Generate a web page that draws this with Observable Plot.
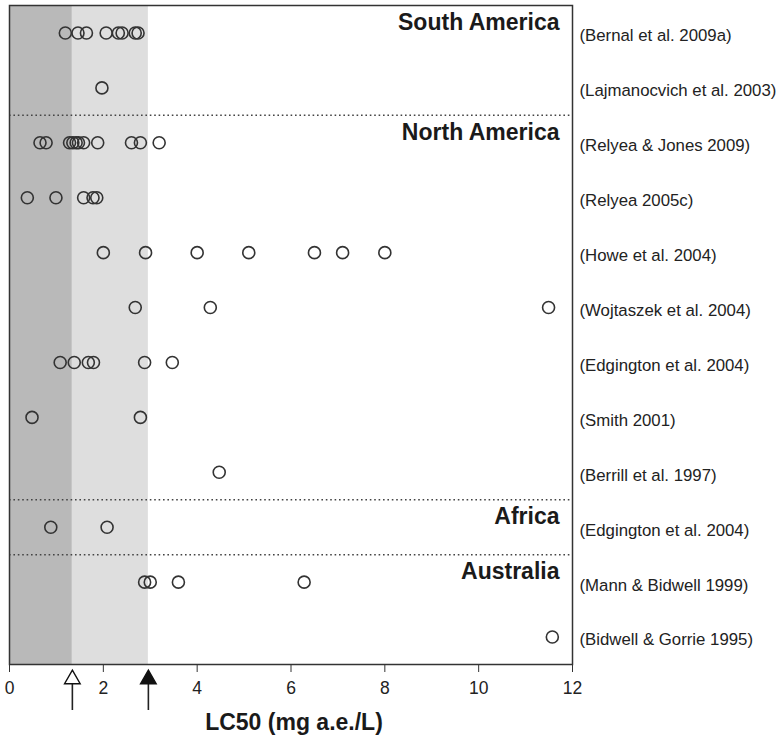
<!DOCTYPE html>
<html>
<head>
<meta charset="utf-8">
<script src="https://cdn.jsdelivr.net/npm/d3@7"></script>
<script src="https://cdn.jsdelivr.net/npm/@observablehq/plot@0.6"></script>
<style>
  body { margin: 0; background: #fff; }
  #chart svg { display: block; }
</style>
</head>
<body>
<div id="chart"></div>
<script>
// Study references (one row each, top to bottom)
const refs = [
  "(Bernal et al. 2009a)",
  "(Lajmanocvich et al. 2003)",
  "(Relyea & Jones 2009)",
  "(Relyea 2005c)",
  "(Howe et al. 2004)",
  "(Wojtaszek et al. 2004)",
  "(Edgington et al. 2004)",
  "(Smith 2001)",
  "(Berrill et al. 1997)",
  "(Edgington et al. 2004)",
  "(Mann & Bidwell 1999)",
  "(Bidwell & Gorrie 1995)"
];

// LC50 values (mg a.e./L) per row
const lc50 = [
  [1.19, 1.46, 1.64, 2.06, 2.32, 2.40, 2.68, 2.74],
  [1.97],
  [0.65, 0.78, 1.28, 1.35, 1.42, 1.47, 1.58, 1.88, 2.60, 2.79, 3.19],
  [0.38, 0.99, 1.58, 1.78, 1.86],
  [2.0, 2.9, 4.0, 5.1, 6.5, 7.1, 8.0],
  [2.68, 4.28, 11.49],
  [1.08, 1.38, 1.68, 1.79, 2.88, 3.47],
  [0.48, 2.79],
  [4.47],
  [0.88, 2.08],
  [2.88, 3.0, 3.60, 6.28],
  [11.57]
];

// Region headings and the row each one sits in
const regions = ["South America", "North America", "Africa", "Australia"];
const regionRows = [0, 2, 9, 10];

// Dotted separators between regions (row boundaries)
const dividers = [1.5, 8.5, 9.5];

// Threshold values marked by arrows / shaded bands
const thresholds = [1.34, 2.96];

const xTicks = [0, 2, 4, 6, 8, 10, 12];
const xLabel = "LC50 (mg a.e./L)";

const nRows = refs.length;
const points = lc50.flatMap((vals, row) => vals.map(v => ({row, v})));

const chart = Plot.plot({
  width: 776,
  height: 739,
  marginLeft: 9,
  marginRight: 204,
  marginTop: 5,
  marginBottom: 75,
  style: {
    fontFamily: '"Liberation Sans", Arial, Helvetica, sans-serif',
    background: "#fff",
    color: "#222",
    overflow: "visible"
  },
  x: {domain: [0, 12]},
  y: {domain: [-0.5, nRows - 0.5], reverse: true},
  marks: [
    Plot.rect([0], {x1: () => 0, x2: () => thresholds[0], fill: "#b9b9b9"}),
    Plot.rect([0], {x1: () => thresholds[0], x2: () => thresholds[1], fill: "#dedede"}),
    Plot.ruleY(dividers, {stroke: "#444", strokeWidth: 1.5, strokeDasharray: "1.6,2.8"}),
    Plot.dot(points, {x: "v", y: "row", r: 6, stroke: "#333", strokeWidth: 1.6, fill: "none"}),
    Plot.text(regions, {
      text: d => d,
      y: (d, i) => regionRows[i],
      frameAnchor: "right",
      textAnchor: "end",
      lineAnchor: "bottom",
      dx: -13,
      dy: -3,
      fontSize: 23,
      fontWeight: "bold",
      fill: "#1a1a1a"
    }),
    Plot.frame({stroke: "#333", strokeWidth: 1.5}),
    Plot.axisX({
      anchor: "bottom",
      ticks: xTicks,
      tickSize: 8,
      tickPadding: 9,
      fontSize: 17.5,
      label: null,
      stroke: "#333"
    }),
    Plot.axisY({
      anchor: "right",
      ticks: d3.range(nRows),
      tickFormat: i => refs[i],
      tickSize: 0,
      tickPadding: 7,
      fontSize: 16.8,
      dy: 3,
      label: null
    }),
    // arrows below the axis marking the thresholds
    Plot.ruleX(thresholds, {x: d => d, insetTop: 678, insetBottom: -46, stroke: "#222", strokeWidth: 1.6}),
    Plot.dot([thresholds[0]], {x: d => d, frameAnchor: "bottom", dy: 14.7, symbol: "triangle", r: 5.8, fill: "white", stroke: "#111", strokeWidth: 1.4}),
    Plot.dot([thresholds[1]], {x: d => d, frameAnchor: "bottom", dy: 14.7, symbol: "triangle", r: 5.8, fill: "#111", stroke: "#111", strokeWidth: 1.4}),
    Plot.text([xLabel], {
      text: d => d,
      frameAnchor: "bottom",
      lineAnchor: "bottom",
      dx: 3,
      dy: 65,
      fontSize: 23,
      fontWeight: "bold",
      fill: "#1a1a1a"
    })
  ]
});

document.getElementById("chart").append(chart);
</script>
</body>
</html>
